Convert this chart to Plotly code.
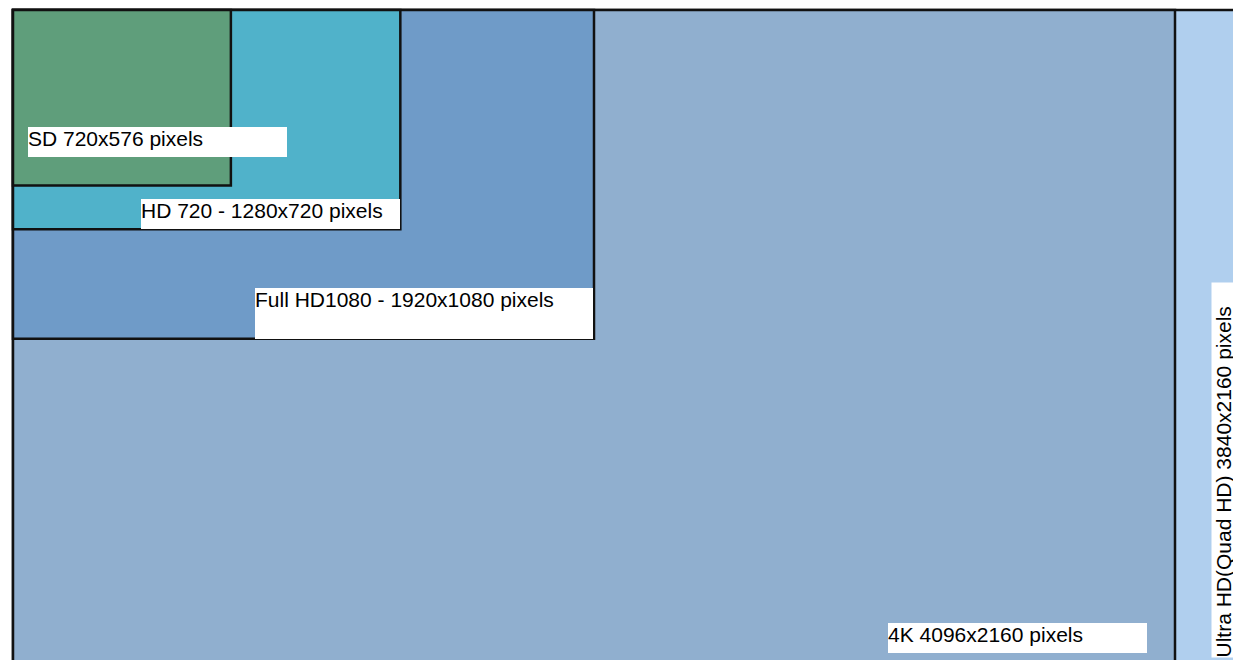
import plotly.graph_objects as go

# ---- data ----
formats = ["4K", "Ultra HD (Quad HD)", "Full HD1080", "HD 720", "SD"]
widths = [4096, 3840, 1920, 1280, 720]
heights = [2160, 2160, 1080, 720, 576]
labels = [
    "4K 4096x2160 pixels",
    "Ultra HD(Quad HD) 3840x2160 pixels",
    "Full HD1080 - 1920x1080 pixels",
    "HD 720 - 1280x720 pixels",
    "SD 720x576 pixels",
]

# ---- styles ----
colors = ["#b0cfee", "#90afcf", "#6f9bc8", "#50b2ca", "#5f9e7b"]
FONT = dict(family="Arial, Liberation Sans, sans-serif", size=21, color="#000000")

fig = go.Figure()

# invisible trace so axes exist
fig.add_trace(go.Scatter(x=[0, max(widths)], y=[0, max(heights)], mode="markers",
                         marker=dict(opacity=0), hoverinfo="skip", showlegend=False))

for w, h, c in zip(widths, heights, colors):
    fig.add_shape(type="rect", x0=0, y0=0, x1=w, y1=h, xref="x", yref="y",
                  fillcolor=c, line=dict(color="#111111", width=2.5), layer="above")

# label placement (4K text sits at the corner of the 3840 rectangle, UHD text to its right)
label_style = {
    "4K 4096x2160 pixels": dict(ref=1, xs="right", ypaper=True, xshift=-28, yshift=7, w=259, h=30, ang=0),
    "Ultra HD(Quad HD) 3840x2160 pixels": dict(ref=1, xs="left", ypaper=True, xshift=36, yshift=2, w=375, h=30, ang=-90),
    "Full HD1080 - 1920x1080 pixels": dict(ref=2, xs="right", ypaper=False, xshift=-1, yshift=0, w=338, h=51, ang=0),
    "HD 720 - 1280x720 pixels": dict(ref=3, xs="right", ypaper=False, xshift=0, yshift=0, w=259, h=30, ang=0),
    "SD 720x576 pixels": dict(ref=4, xs="left0", ypaper=False, xshift=15, yshift=28, w=259, h=30, ang=0),
}

for lab in labels:
    s = label_style[lab]
    i = s["ref"]
    if s["xs"] == "left0":
        xv, xa = 0, "left"
    elif s["xs"] == "left":
        xv, xa = widths[i], "left"
    else:
        xv, xa = widths[i], "right"
    if s["ypaper"]:
        yv, yr = 0, "paper"
    else:
        yv, yr = heights[i], "y"
    fig.add_annotation(x=xv, y=yv, xref="x", yref=yr, text=lab,
                       showarrow=False, xanchor=xa, yanchor="bottom",
                       xshift=s["xshift"], yshift=s["yshift"],
                       width=s["w"], height=s["h"], align="left", valign="top",
                       bgcolor="#ffffff", borderpad=0, borderwidth=0,
                       textangle=s["ang"], font=FONT)

# page body has an 8px margin; figure is sized/offset to compensate
W, H = 1233, 652
OX, OY = 5, 2
sx = 1162 / 3840.0
sy = 0.3045
fig.update_layout(
    width=W, height=H,
    margin=dict(l=0, r=0, t=0, b=0, pad=0),
    paper_bgcolor="#ffffff", plot_bgcolor="#ffffff",
    showlegend=False,
    xaxis=dict(range=[-OX / sx, (W - OX) / sx], visible=False, showgrid=False, zeroline=False),
    yaxis=dict(range=[(H - OY) / sy, -OY / sy], visible=False, showgrid=False, zeroline=False),
)

fig.write_html("out.html")
